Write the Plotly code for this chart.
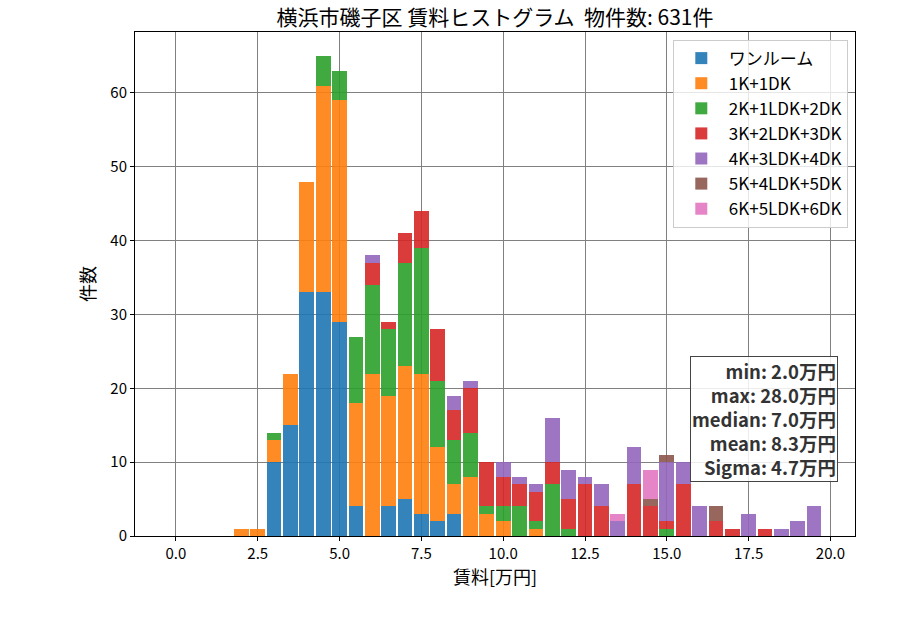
import plotly.graph_objects as go

# bin centers (万円), width 0.5
centers = [i * 0.5 for i in range(40)]

def series(d):
    return [d.get(c, 0) for c in centers]

categories = ["ワンルーム", "1K+1DK", "2K+1LDK+2DK", "3K+2LDK+3DK",
              "4K+3LDK+4DK", "5K+4LDK+5DK", "6K+5LDK+6DK"]

one_room = series({3.0: 10, 3.5: 15, 4.0: 33, 4.5: 33, 5.0: 29, 5.5: 4, 6.5: 4,
                   7.0: 5, 7.5: 3, 8.0: 2, 8.5: 3})
k1 = series({2.0: 1, 2.5: 1, 3.0: 3, 3.5: 7, 4.0: 15, 4.5: 28, 5.0: 30, 5.5: 14,
             6.0: 22, 6.5: 15, 7.0: 18, 7.5: 19, 8.0: 10, 8.5: 4, 9.0: 8, 9.5: 3,
             10.0: 2, 11.0: 1})
k2 = series({3.0: 1, 4.5: 4, 5.0: 4, 5.5: 9, 6.0: 12, 6.5: 9, 7.0: 14, 7.5: 17,
             8.0: 9, 8.5: 6, 9.0: 6, 9.5: 1, 10.0: 2, 10.5: 4, 11.0: 1, 11.5: 7,
             12.0: 1, 15.0: 1})
k3 = series({6.0: 3, 6.5: 1, 7.0: 4, 7.5: 5, 8.0: 7, 8.5: 4, 9.0: 6, 9.5: 6,
             10.0: 4, 10.5: 3, 11.0: 4, 11.5: 3, 12.0: 4, 12.5: 7, 13.0: 4,
             14.0: 7, 14.5: 4, 15.0: 1, 15.5: 7, 16.5: 2, 17.0: 1, 18.0: 1})
k4 = series({6.0: 1, 8.5: 2, 9.0: 1, 10.0: 2, 10.5: 1, 11.0: 1, 11.5: 6, 12.0: 4,
             12.5: 1, 13.0: 3, 13.5: 2, 14.0: 5, 15.0: 8, 15.5: 3, 16.0: 4,
             17.5: 3, 18.5: 1, 19.0: 2, 19.5: 4})
k5 = series({14.5: 1, 15.0: 1, 16.5: 2})
k6 = series({13.5: 1, 14.5: 4})

values = [one_room, k1, k2, k3, k4, k5, k6]
colors = ["#1f77b4", "#ff7f0e", "#2ca02c", "#d62728", "#9467bd", "#8c564b", "#e377c2"]

x_ticks = [0.0, 2.5, 5.0, 7.5, 10.0, 12.5, 15.0, 17.5, 20.0]
y_ticks = [0, 10, 20, 30, 40, 50, 60]

stats_text = ("<b>min: 2.0万円<br>max: 28.0万円<br>median: 7.0万円<br>"
              "mean: 8.3万円<br>Sigma: 4.7万円</b>")

FONT = "Noto Sans CJK JP"

fig = go.Figure()
for name, vals, col in zip(categories, values, colors):
    fig.add_trace(go.Bar(x=centers, y=vals, name=name, width=0.45, legendgroup=name,
                         marker=dict(color=col, line=dict(width=0)), opacity=0.9))

fig.update_layout(
    width=900, height=630,
    barmode="stack",
    paper_bgcolor="white", plot_bgcolor="white",
    margin=dict(l=135, r=45, t=32, b=94),
    font=dict(family=FONT, color="black"),
    title=dict(text="横浜市磯子区 賃料ヒストグラム  物件数: 631件",
               x=0.55, xanchor="center", y=0.972, yanchor="middle",
               font=dict(size=21, color="black")),
    legend=dict(x=0.99, xanchor="right", y=0.985, yanchor="top",
                bgcolor="rgba(255,255,255,0.8)", bordercolor="#cccccc",
                borderwidth=1, font=dict(size=17), traceorder="normal",
                itemwidth=45, tracegroupgap=3, itemsizing="constant"),
    showlegend=True,
)
fig.update_xaxes(range=[-1.25, 20.75], tickvals=x_ticks,
                 ticktext=[f"{v:.1f}" for v in x_ticks],
                 showgrid=True, gridcolor="#808080", gridwidth=1,
                 showline=True, linecolor="black", linewidth=1, mirror=True,
                 ticks="outside", ticklen=4, tickcolor="black",
                 tickfont=dict(size=15), zeroline=False, layer="above traces",
                 title=dict(text="賃料[万円]", font=dict(size=18), standoff=8))
fig.update_yaxes(range=[0, 68.25], tickvals=y_ticks,
                 showgrid=True, gridcolor="#808080", gridwidth=1,
                 showline=True, linecolor="black", linewidth=1, mirror=True,
                 ticks="outside", ticklen=4, tickcolor="black",
                 tickfont=dict(size=15), zeroline=False, layer="above traces",
                 title=dict(text="件数", font=dict(size=18), standoff=10))

fig.add_annotation(xref="paper", yref="paper", x=0.977, y=0.108,
                   xanchor="right", yanchor="bottom", align="right",
                   text=stats_text, showarrow=False,
                   font=dict(size=18.5, color="#333333", family=FONT),
                   bgcolor="rgba(255,255,255,0.85)", bordercolor="#444444",
                   borderwidth=1, borderpad=1)

fig.write_html("out.html")
